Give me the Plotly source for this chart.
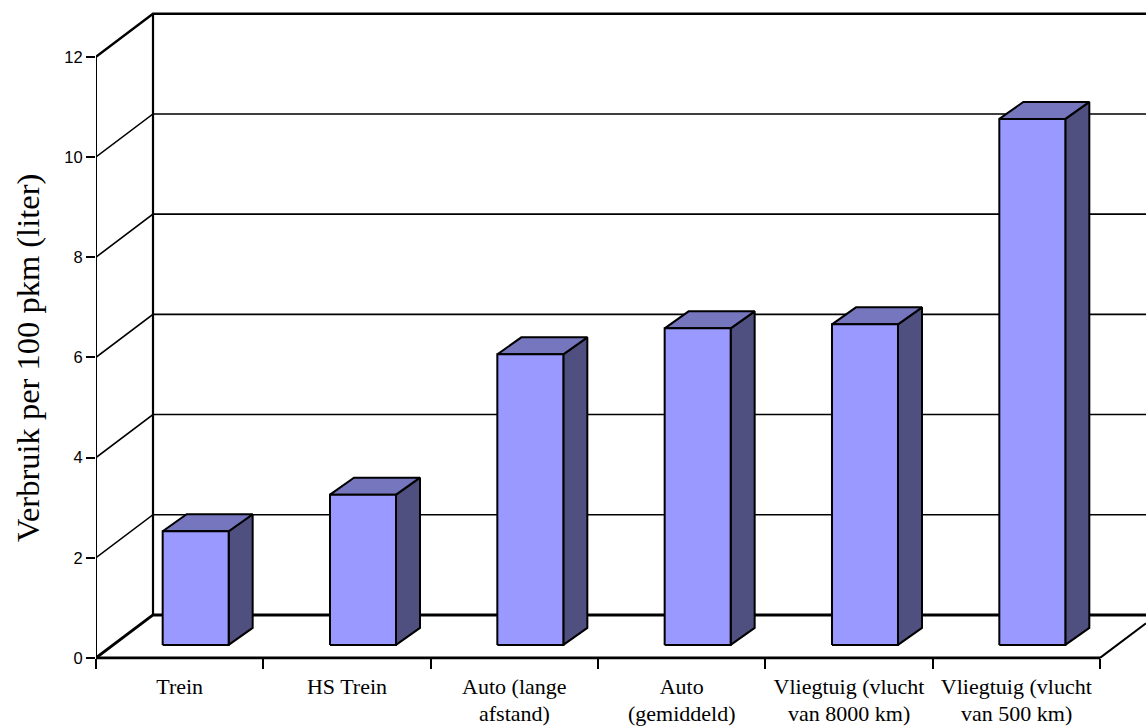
import plotly.graph_objects as go

categories_line1 = ["Trein", "HS Trein", "Auto (lange", "Auto", "Vliegtuig (vlucht", "Vliegtuig (vlucht"]
categories_line2 = ["", "", "afstand)", "(gemiddeld)", "van 8000 km)", "van 500 km)"]
values = [2.27, 3.0, 5.8, 6.32, 6.4, 10.5]
y_ticks = [0, 2, 4, 6, 8, 10, 12]

W, H = 1146, 726
L, B = 96, 68
PX_X = 167.33
PX_Y = 50.1
def ux(p): return p / PX_X
def uy(p): return p / PX_Y

WALL_X, WALL_Y = ux(57), uy(43)
XMAX = (W - L) / PX_X
YMAX = (H - B) / PX_Y
YMIN = -1.0
BOTTOM = B + YMIN * PX_Y
PLOT_H = H - BOTTOM
BAR_W = ux(66)
BAR_OFF = ux(16)
BAR_BASE = uy(13)
D_X, D_Y = ux(24), uy(17)

FRONT, TOP, SIDE = "#9999ff", "#7676bf", "#4f4f80"

fig = go.Figure()

def line(xs, ys, w):
    fig.add_trace(go.Scatter(x=xs, y=ys, mode="lines", line=dict(color="black", width=w),
                             cliponaxis=False, hoverinfo="skip", showlegend=False))

def poly(xs, ys, color):
    fig.add_trace(go.Scatter(x=xs, y=ys, mode="lines", fill="toself", fillcolor=color,
                             line=dict(color="black", width=2), cliponaxis=False,
                             hoverinfo="skip", showlegend=False))

# gridlines: side wall + back wall
for v in y_ticks[1:-1]:
    line([0, WALL_X, XMAX], [v, v + WALL_Y, v + WALL_Y], 1.6)
line([0, WALL_X, XMAX], [12, 12 + WALL_Y, 12 + WALL_Y], 2.4)
line([WALL_X, WALL_X], [WALL_Y, 12 + WALL_Y], 2.2)
line([0, 0], [0, 12], 2)
# floor
line([0, WALL_X, XMAX], [0, WALL_Y, WALL_Y], 3)
line([0, 6], [0, 0], 2.6)
line([6, XMAX], [0, (XMAX - 6) / WALL_X * WALL_Y], 2)

for i, v in enumerate(values):
    c = i + 0.5 + BAR_OFF
    x0, x1 = c - BAR_W / 2, c + BAR_W / 2
    y0, y1 = BAR_BASE, BAR_BASE + v
    poly([x1, x1 + D_X, x1 + D_X, x1, x1], [y0, y0 + D_Y, y1 + D_Y, y1, y0], SIDE)
    poly([x0, x0 + D_X, x1 + D_X, x1, x0], [y1, y1 + D_Y, y1 + D_Y, y1, y1], TOP)
    poly([x0, x1, x1, x0, x0], [y0, y0, y1, y1, y0], FRONT)

annotations = [
    dict(x=i + 0.5, y=0, xref="x", yref="y", yshift=-56, text=t, showarrow=False,
         font=dict(family="Liberation Serif", size=22, color="black"))
    for i, t in enumerate(categories_line2) if t
]
annotations.append(dict(x=0, xref="paper", xshift=-68, xanchor="center", y=uy(H - B - 358), yref="y",
                        text="Verbruik per 100 pkm (liter)", textangle=-90, showarrow=False,
                        font=dict(family="Liberation Serif", size=32.5, color="black")))

fig.update_layout(
    width=W, height=H, autosize=False,
    margin=dict(l=L, r=0, t=0, b=BOTTOM),
    paper_bgcolor="white", plot_bgcolor="white", showlegend=False,
    annotations=annotations,
    xaxis=dict(range=[0, XMAX], anchor="free", position=-YMIN * PX_Y / PLOT_H,
               tickmode="array", tickvals=[i + 0.5 for i in range(6)],
               ticktext=categories_line1, ticks="", showgrid=False, zeroline=False,
               showline=False, ticklabelstandoff=13,
               tickfont=dict(family="Liberation Serif", size=22, color="black"),
               minor=dict(tickmode="array", tickvals=list(range(7)), ticks="outside", ticklen=10,
                          tickwidth=2, tickcolor="black", showgrid=False)),
    yaxis=dict(range=[YMIN, YMAX], tickmode="array", tickvals=y_ticks, ticks="outside", ticklen=9,
               tickwidth=2, tickcolor="black", showgrid=False, zeroline=False,
               showline=False,
               tickfont=dict(family="Liberation Sans", size=16.5, color="black")),
)
fig.write_html("out.html", config=dict(displayModeBar=False),
               post_script="document.body.style.margin='0';")
